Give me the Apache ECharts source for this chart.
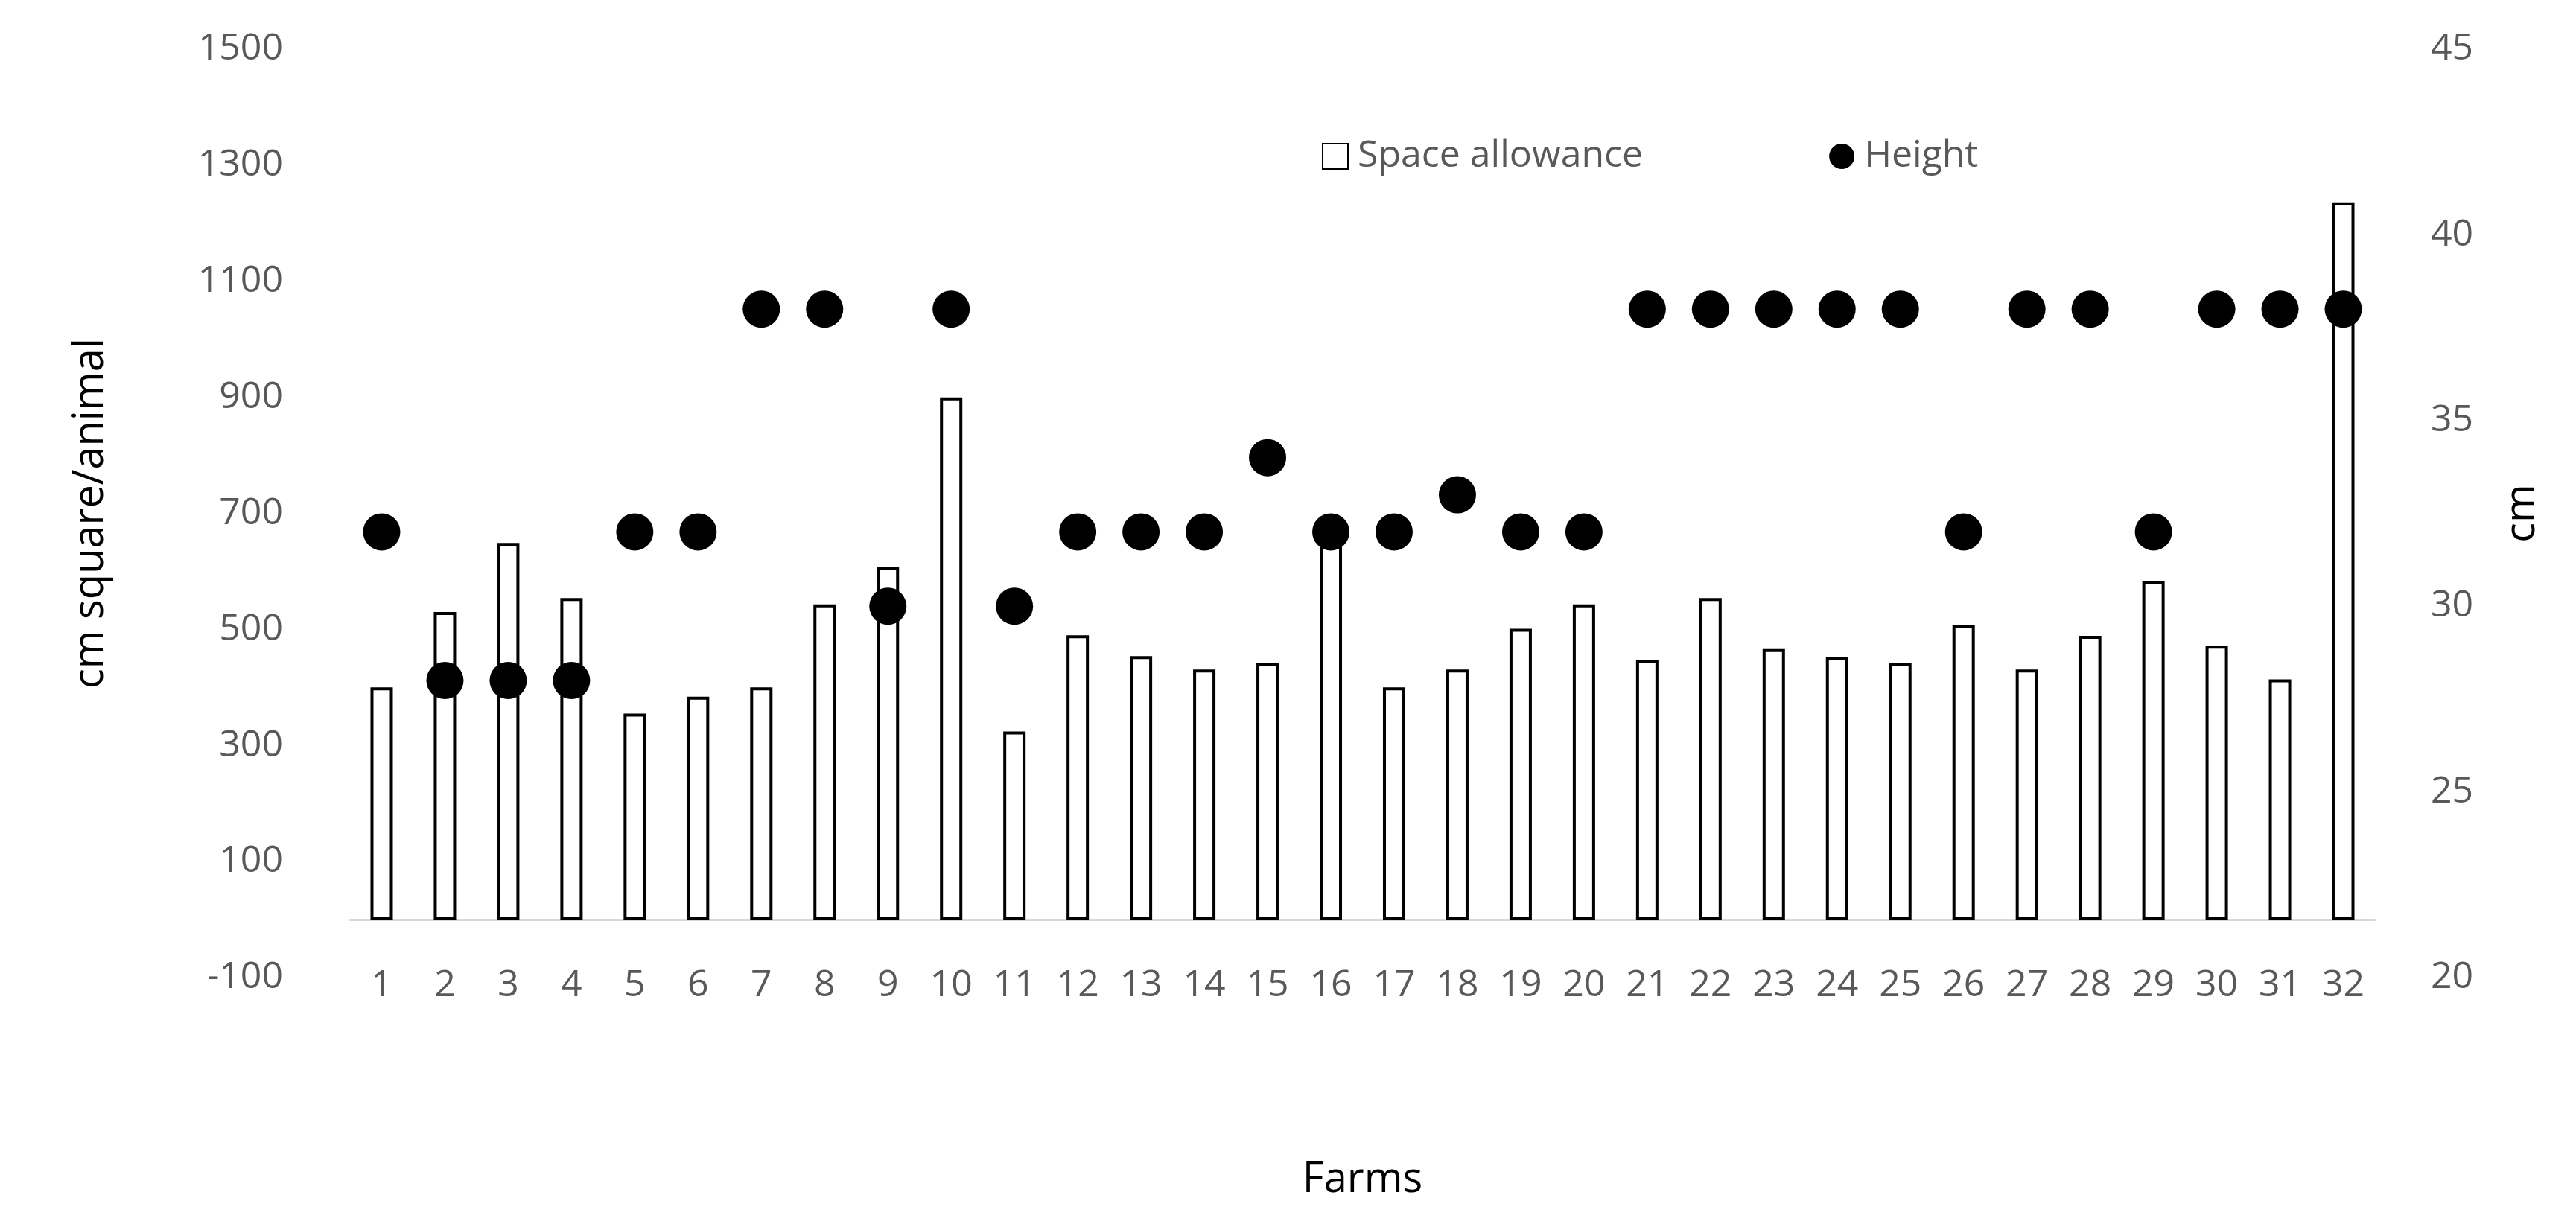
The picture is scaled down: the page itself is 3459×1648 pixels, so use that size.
<!DOCTYPE html>
<html>
<head>
<meta charset="utf-8">
<script src="https://cdn.jsdelivr.net/npm/echarts@6/dist/echarts.min.js"></script>
<style>html,body{margin:0;padding:0;background:#fff}#main{width:3459px;height:1648px}</style>
</head>
<body>
<div id="main"></div>
<script>
var farms = [];
for (var i = 1; i <= 32; i++) farms.push(String(i));
var spaceAllowance = [400,530,649,554,355,384,400,543,607,900,324,490,454,431,442,649,
                      400,431,501,543,447,554,466,453,442,507,431,489,584,472,414,1236];
var height = [32,28,28,28,32,32,38,38,30,38,30,32,32,32,34,32,
              32,33,32,32,38,38,38,38,38,32,38,38,32,38,38,38];

var grey = '#595959';
var chart = echarts.init(document.getElementById('main'));
chart.setOption({
  backgroundColor: '#fff',
  animation: false,
  textStyle: { fontFamily: 'Open Sans' },
  grid: { left: 470, right: 270, top: 66, bottom: 335 },
  legend: {
    top: 180, left: 1770, itemGap: 250, itemWidth: 34, itemHeight: 34,
    textStyle: { fontSize: 50, color: grey, padding: [0, 0, 0, 8] },
    data: [
      { name: 'Space allowance', icon: 'rect' },
      { name: 'Height', icon: 'circle' }
    ]
  },
  xAxis: {
    type: 'category', data: farms,
    name: 'Farms', nameLocation: 'middle', nameGap: 244,
    nameTextStyle: { fontSize: 56, color: '#000' },
    axisLine: { onZero: true, lineStyle: { color: '#d9d9d9', width: 3 } },
    axisTick: { show: false },
    axisLabel: { fontSize: 50, color: grey, margin: -14 }
  },
  yAxis: [
    {
      type: 'value', min: -100, max: 1500, interval: 200,
      name: 'cm square/animal', nameLocation: 'middle', nameGap: 320, nameRotate: 90,
      nameTextStyle: { fontSize: 56, color: '#000' },
      splitLine: { show: false }, axisLine: { show: false }, axisTick: { show: false },
      axisLabel: { fontSize: 50, color: grey, margin: 90, formatter: function (v) { return String(v); } }
    },
    {
      type: 'value', min: 20, max: 45, interval: 5,
      name: 'cm', nameLocation: 'middle', nameGap: 170, nameRotate: 90,
      nameTextStyle: { fontSize: 56, color: '#000' },
      splitLine: { show: false }, axisLine: { show: false }, axisTick: { show: false },
      axisLabel: { fontSize: 50, color: grey, margin: 75 }
    }
  ],
  series: [
    {
      name: 'Space allowance', type: 'bar', data: spaceAllowance, barWidth: 30,
      itemStyle: { color: '#fff', borderColor: '#000', borderWidth: 4 }
    },
    {
      name: 'Height', type: 'scatter', yAxisIndex: 1, data: height,
      symbol: 'circle', symbolSize: 50,
      itemStyle: { color: '#000', opacity: 1 }
    }
  ]
});
</script>
</body>
</html>
